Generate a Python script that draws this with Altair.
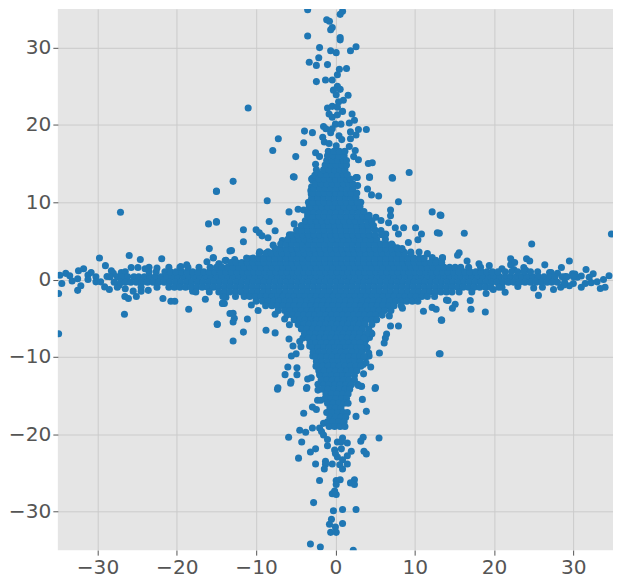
import altair as alt
import pandas as pd

tick_values = [-30, -20, -10, 0, 10, 20, 30]

# isolated points
outlier_x = [-15,-27.1,-16,-15,-15.9,-15.4,-16.2,-29.75,-26,-29,-24.6,-21.9,-28.25,-25.75,-24.9,-24,-18.75,-34,-32.4,-31.75,-34.75,-34.5,-32.5,-32.1,-32.5,-31.2,-31.2,-30.2,-30.2,-29.1,-28.5,-27.25,-26.6,-26.55,-26.1,-25.1,-23.6,-21.75,-20.75,-20.25,-18.5,-14.9,-16.4,-14.25,-14,-13.8,-34.9,-34.9,-13.3,-13.3,-14.7,-13.8,
 13.3,13.1,16.25,34.8,24.75,15.6,15.4,13.5,16.6,18.1,19.4,21,22.1,22.1,22.6,24.1,24.5,23.75,26.4,29.5,28.5,31.6,32.5,34.5,29.9,31,33.8,34,33.4,32.25,31,28.4,27.5,26.1,25.6,21.4,19.9,19,18.9,17.1,17,15.1,14.75,14.2,13.4,13.2,
 -3.5,.9,.6,-1.1,-.75,-.4,-.6,-3.5,.6,.6,-2,2.6,1.9,-.6,.1,-2.1,-3.3,-2.4,-1,1.4,.5,.25,-2.4,-1.25,-.4,.25,-.25,.6,.1,1.6,1,.4,-11,-1,-.4,.25,.9,2.1,2.4,1.75,-.8,-.4,.25,0,.7,-1.5,-1.2,-3.9,-2.9,-7.2,-7.9,-5,-4,1.9,2.9,3.9,2.6,1.9,-.4,-.6,-1.6,-1.4,-.8,.1,.45,.8,1.75,2.5,1,-2.5,-2,2.3,2.9,4.65,4.15,9.3,7.15,4.3,2.75,-2.5,-5.3,-2.9,
 -7.3,-5.65,-3.65,5,2.9,3.25,3.4,3.9,2.6,-4,-2.9,-2.4,-2.25,-1.85,-2.2,-2.2,-1.5,-2.9,-4.5,-3.75,-5.9,-4.25,-2,-1.75,-1.5,-1,5.5,3.5,3.2,1.5,.9,.25,.7,-1,-2.5,-3.15,-4.65,-.1,.75,2,3.6,3.9,1.5,.25,0,.9,-2.5,-1.25,-1.25,-1.4,-.4,1.5,.55,.9,-2,.1,.6,.1,2.4,1.9,2.4,-.4,.1,-.1,-2.75,2.6,.9,-.25,-.5,-.75,.9,0,-.6,.1,-3.15,-1.9,2.25,
 -12.9,-15,-5.2,-8.6,7.2,4.3,4.55,5.45,7.95,12.2,13.2,12.85,6.95,6.95,-8.35,-5.85,-15,-11.6,-11.6,-7.6,-8.5,-10,-9.6,-9.25,-13.1,-15.4,-13.9,6.7,8.6,10.1,10.85,7.55,7.95,10.4,9.2,13.5,11.6,11.1,8.45,12.2,12.7,13.35,13.1,14,-14.9,-11.6,-12.9,-11.1,-12.9,-12.75,-12.9,-8.75,-7.6,-7.6,-5.85,-5.35,-4.35,-4.1,-4.5,-4.95,-5.55,-6,-4.85,-6.35,-4.85,-5.6,-3.5,-3.05,6.95,7.95,6.45,6.3,6.15,5.55,4.45,3.55,2.8,3.3,5.05,-7.25,-3.6,
 -2.85,-3.05,-4.7,-4,-5.2,-3.5,2.6,2.8,4.05,2.45,3.2,4.25,5.1,5.75,5.75,6.35,7.2,7.8,8.65,9.5,10.55,12.2,12.65,-6.7,-5.8,-7.85,-9.55,-8.5,-10.8,-12.7,-14.65,-10.6,-9.75,-14.2,-13.9,-6.4,-5.8,-4.5,-3.25,-2.85,-2.45,-2,4.5,3.85,4.25,3.85,2.6,6.8,5.1,
 -28,-27,-26.5,-27.5,-26.5,-25.5,-24.5,-23.5,-22.5,-21,-19.5,-18,-28.8,-29.6,-30.8,-33.2,-33.5,21,23,25,24,25.5,27,28,29,30,30.5,29.5,32,33,31.5,30.2,28.8,27.2,22.5,
 -3,-3,-3.1,-3,-3.4,-3.3,-2.6,-2.4,-2.2,3.5,3.9,4.2,4,3.7,4.3,4.6,3.5]
outlier_y = [11.4,8.7,7.2,7.4,4,2.8,2.3,2.8,3.1,1.8,2.6,2.7,1.15,1.55,1.55,1.4,1.9,.8,1.15,1.4,.55,-.5,-1.4,-.8,.1,.6,0,.35,-.3,-.95,-1.3,-.7,-4.5,-2.2,-2.45,-2.2,-1.4,-2.45,-2.8,-2.8,-3.85,-5.8,-2.55,-3.1,-3.1,-2.3,-1.8,-7,-4.4,3.7,2.05,2.5,
 8.3,6,6,5.9,4.6,3.45,3.15,2.8,2.4,2.05,1.8,1.4,2.7,1.9,2.2,2.7,2.4,1.55,1.9,2.4,1.55,1.3,.75,.5,.75,.45,0,-1,-1.15,-.4,-1,-1,-1.3,-1,-2.05,-1.65,-1.3,-1.8,-4.2,-3.85,-2.7,-3.2,-3.7,-2.7,-5.25,-9.6,
 34.9,34.7,34.3,33.6,33.4,32.6,32.3,31.5,31.3,31,30,30.1,29.6,29.6,29.35,28.7,28.1,27.7,27.8,27.3,27.2,26.5,25.6,25.8,25.8,25,24.5,24.6,23.9,23.85,23.2,23,22.2,22.2,22.4,22.3,21.75,21.4,20.6,20.25,21.4,21,21.3,20.1,20.1,19.8,19.5,19.2,19,18.2,16.7,15.9,17.7,19.1,19.4,19.4,18.7,18.2,19.5,19,18.4,17.8,17.6,17.3,18.6,18.1,17.2,16.7,16.5,16.4,15.9,15.9,15.5,15.1,15,13.85,13.2,13.3,13.2,14.9,13.3,13.1,
 -14.2,-13.4,-14.1,-14.1,-13.7,-13.8,-15.5,-17.05,-17.7,-17.3,-16.5,-16.8,-15.6,-15.6,-13.55,-14.3,-18.6,-19.2,-19.5,-19.75,-20.4,-21,-19.2,-19.65,-20.1,-20.7,-20.5,-20.4,-20.9,-21.15,-20.5,-21,-21,-21.5,-21.9,-22.3,-23.1,-22.05,-21.9,-22.2,-22.2,-22.55,-22.8,-22.95,-22.5,-23.3,-23.85,-23.5,-23.9,-24.5,-23.85,-23.85,-23.95,-24.5,-26,-26,-25.9,-26.5,-25.9,-26.3,-26.5,-27.7,-27.8,-27.35,-28.85,-29.75,-29.75,-29.9,-31,-31.65,-31.55,-32,-32.7,-32.7,-34.2,-34.6,-35,
 12.7,11.45,13.25,10.2,13.1,13.2,10.95,10.8,10.05,8.75,8.35,6.05,9,8.25,7.5,8.75,7.5,6.45,4.9,6.3,5.4,6.45,6.05,5.65,3.75,2.85,2.45,7.35,6.7,6.7,5.9,6.7,5.9,5.15,4.8,2.85,3.35,-4.1,-3.7,-3.6,-3.85,-5.25,-9.6,-2.65,-5.75,-6.8,-7.95,-5.1,-4.35,-5,-5.5,-6.55,-6.9,-4.5,-7.7,-8.6,-8.7,-7.55,-8,-9.6,-9.9,-11.3,-11.4,-12.3,-12.3,-13.2,-12.85,-12.7,-6,-6,-7.05,-7.55,-8.2,-9.5,-11.3,-12.2,-13.55,-13.8,-13.95,-14,-13.95,
 12.8,11.05,9.1,9,7.2,8.5,13.2,12.15,11.7,10.85,10,8.3,8.05,7.65,6.35,5.9,4.4,4.1,3.55,3.55,3.55,2.85,2.5,5.05,5.8,4.45,3.6,3.6,2.7,2.6,2,-3.3,-4,-3.05,-2.2,-5.1,-5.85,-5.85,-8.6,-9.9,-11.2,-12.3,-6.9,-7.8,-9.9,-10.75,-10.35,-4.7,-5.2,
 .8,.9,1,-1,-1.2,-1.5,-1.5,1.6,1.5,1.6,1.7,-1.5,.4,-.3,.9,-.2,.5,-1,-.9,-1.1,1.2,1,.9,.8,.4,-.5,.3,-.8,.3,-.3,-.5,.7,-.7,.9,1.3,
 13,12,11.5,10.5,10,9.5,13.5,14.2,13.8,-11,-10,-9.5,-8.8,-8.4,-7.5,-7,-9]

# the solid star
body_y = [.35,-.35,1,-1,1.6,-1.6,2.2,-2.2,2.8,-2.8,3.4,-3.4,4,-4,4.6,-4.6,5.2,-5.2,5.8,-5.8,6.4,-6.4,7,-7,7.6,-7.6,8.2,-8.2,8.8,-8.8,9.4,-9.4,10,-10,10.6,-10.6,11.2,-11.2,11.8,-11.8,12.4,-12.4,13,-13,13.6,-13.6,14.2,-14.2,14.8,-14.8,15.4,-15.4,16,-16,16.6,-16.6,-17.2,-17.8,-18.4,-19]
body_x = [
 [-28.4,-27.5,-26.9,-26.2,-25.4,-24.8,-24.1,-23.4,-22.7,-22,-21.3,-20.6,-19.9,-19.2,-18.5,-17.8,-17.1,-16.4,-15.7,-15,-14.3,-13.6,-12.9,-12.2,-11.5,-10.8,-10.1,-9.4,-8.7,-8,-7.3,-6.6,-5.9,-5.2,-4.5,-3.8,-3.1,-2.4,-1.7,-1,-.3,.4,1.1,1.8,2.5,3.2,3.9,4.6,5.3,6,6.7,7.4,8.1,8.8,9.5,10.2,10.9,11.6,12.3,13,13.7,14.4,15.1,15.8,16.5,17.2,17.9,18.6,19.3,20,20.7,21.4,22.1,22.8,23.5,24.2,24.9,25.6,26.3,27,27.7,28.6,29.2,30],
 [-27.9,-27.1,-26.5,-25.8,-25.1,-24.4,-23.7,-23,-22.3,-21.6,-20.9,-20.2,-19.5,-18.8,-18.1,-17.4,-16.7,-16,-15.3,-14.6,-13.9,-13.2,-12.5,-11.8,-11.1,-10.4,-9.7,-9,-8.3,-7.6,-6.9,-6.2,-5.5,-4.8,-4.1,-3.4,-2.7,-2,-1.3,-.6,.1,.8,1.5,2.2,2.9,3.6,4.3,5,5.7,6.4,7.1,7.8,8.5,9.2,9.9,10.6,11.3,12,12.7,13.4,14.1,14.8,15.5,16.2,16.9,17.6,18.3,19,19.7,20.4,21.1,21.8,22.5,23.2,23.9,24.6,25.3,26,26.7,27.3,28,28.9],
 [-23.5,-22.6,-21.5,-20.8,-20.1,-19.4,-18.7,-18,-17.3,-16.6,-15.9,-15.2,-14.5,-13.8,-13.1,-12.4,-11.7,-11,-10.3,-9.6,-8.9,-8.2,-7.5,-6.8,-6.1,-5.4,-4.7,-4,-3.3,-2.6,-1.9,-1.2,-.5,.2,.9,1.6,2.3,3,3.7,4.4,5.1,5.8,6.5,7.2,7.9,8.6,9.3,10,10.7,11.4,12.1,12.8,13.5,14.2,14.9,15.6,16.3,17,17.7,18.4,19.1,19.8,20.5,21.4,22.2,23,23.8,24.6],
 [-24.5,-22.5,-21,-20.3,-19.6,-18.9,-18.2,-17.5,-16.8,-16.1,-15.4,-14.7,-14,-13.3,-12.6,-11.9,-11.2,-10.5,-9.8,-9.1,-8.4,-7.7,-7,-6.3,-5.6,-4.9,-4.2,-3.5,-2.8,-2.1,-1.4,-.7,0,.7,1.4,2.1,2.8,3.5,4.2,4.9,5.6,6.3,7,7.7,8.4,9.1,9.8,10.5,11.2,11.9,12.6,13.3,14,14.7,15.4,16.1,16.8,17.5,18.2,18.9,19.6,20.6],
 [-19.6,-18.6,-17.2,-15.8,-15,-14.3,-13.6,-12.9,-12.2,-11.5,-10.8,-10.1,-9.4,-8.7,-8,-7.3,-6.6,-5.9,-5.2,-4.5,-3.8,-3.1,-2.4,-1.7,-1,-.3,.4,1.1,1.8,2.5,3.2,3.9,4.6,5.3,6,6.7,7.4,8.1,8.8,9.5,10.2,10.9,11.6,12.3,13,13.7,14.4,15.1,15.8,16.8,18.3],
 [-17.6,-15.9,-14.7,-14,-13.3,-12.6,-11.9,-11.2,-10.5,-9.8,-9.1,-8.4,-7.7,-7,-6.3,-5.6,-4.9,-4.2,-3.5,-2.8,-2.1,-1.4,-.7,0,.7,1.4,2.1,2.8,3.5,4.2,4.9,5.6,6.3,7,7.7,8.4,9.1,9.8,10.5,11.2,11.9,12.6,13.3,14,14.7,15.6,17.2],
 [-13.2,-12.5,-11.8,-11.1,-10.4,-9.7,-9,-8.3,-7.6,-6.9,-6.2,-5.5,-4.8,-4.1,-3.4,-2.7,-2,-1.3,-.6,.1,.8,1.5,2.2,2.9,3.6,4.3,5,5.7,6.4,7.1,7.8,8.5,9.2,9.9,10.6,11.3,12,12.7,13.4],
 [-14.2,-12.6,-11.5,-10.8,-10.1,-9.4,-8.7,-8,-7.3,-6.6,-5.9,-5.2,-4.5,-3.8,-3.1,-2.4,-1.7,-1,-.3,.4,1.1,1.8,2.5,3.2,3.9,4.6,5.3,6,6.7,7.4,8.1,8.8,9.5,10.2,10.9,11.6,12.5],
 [-11.2,-10.4,-9.7,-9,-8.3,-7.6,-6.9,-6.2,-5.5,-4.8,-4.1,-3.4,-2.7,-2,-1.3,-.6,.1,.8,1.5,2.2,2.9,3.6,4.3,5,5.7,6.4,7.1,7.8,8.5,9.2,9.9,10.6,11.2],
 [-10,-9.2,-8.5,-7.8,-7.1,-6.4,-5.7,-5,-4.3,-3.6,-2.9,-2.2,-1.5,-.8,-.1,.6,1.3,2,2.7,3.4,4.1,4.8,5.5,6.2,6.9,7.6,8.3,9,9.7,10.4],
 [-9.6,-8.8,-8.1,-7.4,-6.7,-6,-5.3,-4.6,-3.9,-3.2,-2.5,-1.8,-1.1,-.4,.3,1,1.7,2.4,3.1,3.8,4.5,5.2,5.9,6.6,7.3,8,8.7,9.5],
 [-8.8,-8,-7.3,-6.6,-5.9,-5.2,-4.5,-3.8,-3.1,-2.4,-1.7,-1,-.3,.4,1.1,1.8,2.5,3.2,3.9,4.6,5.3,6,6.7,7.4,8.3],
 [-7.6,-6.9,-6.2,-5.5,-4.8,-4.1,-3.4,-2.7,-2,-1.3,-.6,.1,.8,1.5,2.2,2.9,3.6,4.3,5,5.7,6.4,7.1,7.8,8.4],
 [-7.2,-6.4,-5.7,-5,-4.3,-3.6,-2.9,-2.2,-1.5,-.8,-.1,.6,1.3,2,2.7,3.4,4.1,4.8,5.5,6.2,7],
 [-6.9,-6.2,-5.5,-4.8,-4.1,-3.4,-2.7,-2,-1.3,-.6,.1,.8,1.5,2.2,2.9,3.6,4.3,5,5.7,6.4,7.1],
 [-6.1,-5.4,-4.7,-4,-3.3,-2.6,-1.9,-1.2,-.5,.2,.9,1.6,2.3,3,3.7,4.4,5.1,5.9],
 [-6,-5.3,-4.6,-3.9,-3.2,-2.5,-1.8,-1.1,-.4,.3,1,1.7,2.4,3.1,3.8,4.5,5.2,6.3],
 [-5.2,-4.5,-3.8,-3.1,-2.4,-1.7,-1,-.3,.4,1.1,1.8,2.5,3.2,3.9,4.6,5.2],
 [-5.5,-4.8,-4.1,-3.4,-2.7,-2,-1.3,-.6,.1,.8,1.5,2.2,2.9,3.6,4.3,5,5.8],
 [-4.7,-4,-3.3,-2.6,-1.9,-1.2,-.5,.2,.9,1.6,2.3,3,3.7,4.6],
 [-4.9,-4.2,-3.5,-2.8,-2.1,-1.4,-.7,0,.7,1.4,2.1,2.8,3.5,4.2,5],
 [-4.3,-3.6,-2.9,-2.2,-1.5,-.8,-.1,.6,1.3,2,2.7,3.4,4.2],
 [-4.3,-3.6,-2.9,-2.2,-1.5,-.8,-.1,.6,1.3,2,2.7,3.4,4.1,4.8],
 [-3.9,-3.2,-2.5,-1.8,-1.1,-.4,.3,1,1.7,2.4,3.1,3.9],
 [-3.8,-3.1,-2.4,-1.7,-1,-.3,.4,1.1,1.8,2.5,3.2,4,4.6],
 [-3.4,-2.7,-2,-1.3,-.6,.1,.8,1.5,2.2,2.9,3.6],
 [-3.5,-2.8,-2.1,-1.4,-.7,0,.7,1.4,2.1,2.8,3.5,4.1],
 [-3.2,-2.5,-1.8,-1.1,-.4,.3,1,1.7,2.4,3.1],
 [-3.4,-2.7,-2,-1.3,-.6,.1,.8,1.5,2.2,2.9,3.6],
 [-2.9,-2.2,-1.5,-.8,-.1,.6,1.3,2,2.7,3.2],
 [-3.1,-2.4,-1.7,-1,-.3,.4,1.1,1.8,2.5,3.1],
 [-2.8,-2.1,-1.4,-.7,0,.7,1.4,2.1,2.8,3.3],
 [-2.8,-2.1,-1.4,-.7,0,.7,1.4,2.1,2.8],
 [-2.5,-1.8,-1.1,-.4,.3,1,1.7,2.4,3.1,3.6],
 [-2.9,-2.2,-1.5,-.8,-.1,.6,1.3,2,2.6],
 [-2.4,-1.7,-1,-.3,.4,1.1,1.8,2.5,3.1],
 [-2.8,-2.1,-1.4,-.7,0,.7,1.4,2,2.7],
 [-2.3,-1.6,-.9,-.2,.5,1.2,1.9,2.6,3.2],
 [-2.7,-2,-1.3,-.6,.1,.8,1.5,2.2],
 [-2.1,-1.4,-.7,0,.7,1.4,2.1,2.7],
 [-2.5,-1.8,-1.1,-.4,.3,1,1.7,2.2],
 [-1.9,-1.2,-.5,.2,.9,1.6,2.4],
 [-2.1,-1.4,-.7,0,.7,1.4,1.9],
 [-1.8,-1.1,-.4,.3,1,1.7,2.4],
 [-1.8,-1.1,-.4,.3,1,1.5],
 [-1.5,-.8,-.1,.6,1.3,2],
 [-1.5,-.8,-.1,.6,1.2],
 [-1.6,-.9,-.2,.5,1.2,1.8],
 [-1.3,-.6,.1,.8,1.4],
 [-1.2,-.5,.2,.9,1.6],
 [-1.1,-.4,.3,1,1.4],
 [-1.3,-.6,.1,.8,1.4],
 [-1,-.3,.4,1.1],
 [-1,-.3,.4,1.1,1.6],
 [-.9,-.2,.5,1.2],
 [-.7,0,.7],
 [-1.1,-.4,.3,1,1.5],
 [-.7,0,.7,1.3],
 [-1,-.3,.4,1.1],
 [-.8,-.1,.6,1.2],
]

xs = list(outlier_x)
ys = list(outlier_y)
for row_y, row_x in zip(body_y, body_x):
    xs.extend(row_x)
    ys.extend([row_y] * len(row_x))
data = pd.DataFrame({"x": xs, "y": ys})

font = "DejaVu Sans"
def axis():
    return alt.Axis(values=tick_values, format="d", title=None, domain=False,
                    grid=True, gridColor="#cbcbcb", gridWidth=1,
                    ticks=True, tickColor="#555555", tickSize=5, tickWidth=1,
                    labelFont=font, labelFontSize=20.2, labelColor="#555555",
                    labelPadding=2, labelOverlap=False)

chart = (
    alt.Chart(data)
    .mark_circle(color="#1f77b4", opacity=1, size=50, clip=True)
    .encode(
        x=alt.X("x:Q", scale=alt.Scale(domain=[-35, 35], nice=False, zero=False), axis=axis()),
        y=alt.Y("y:Q", scale=alt.Scale(domain=[-35, 35], nice=False, zero=False), axis=axis()),
    )
    .properties(
        width=557, height=543,
        background="white",
        autosize=alt.AutoSizeParams(type="none"),
        padding={"left": 50, "top": 0, "right": 0, "bottom": 30},
    )
    .configure_view(fill="#E5E5E5", stroke=None)
)
chart.save("out.html", embed_options={"renderer": "svg", "actions": False})
